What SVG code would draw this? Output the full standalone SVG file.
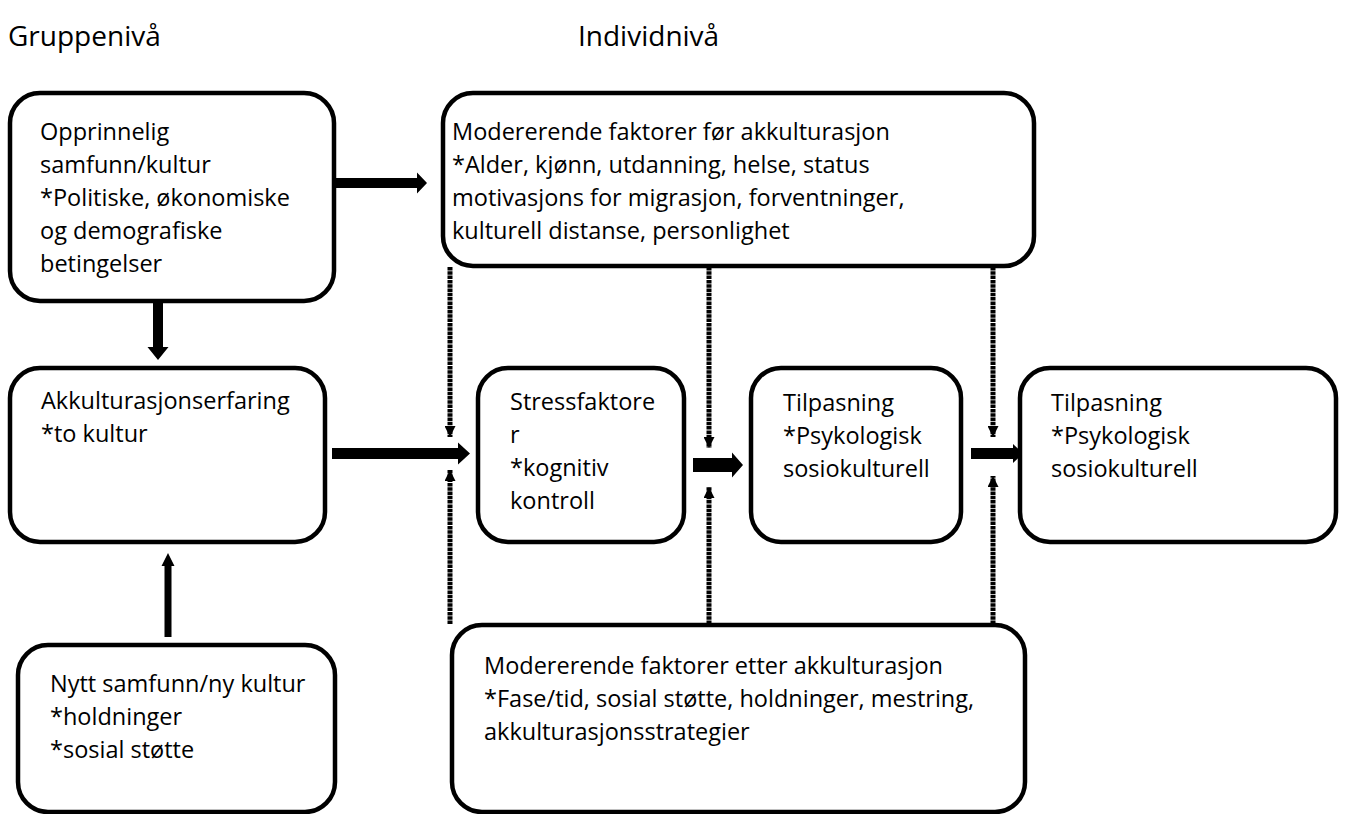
<svg xmlns="http://www.w3.org/2000/svg" width="1346" height="814" viewBox="0 0 1346 814">
<defs>
<style>
.box{fill:#fff;stroke:#000;stroke-width:4.5}
.t{font-family:"Open Sans","Noto Sans",sans-serif;font-size:23.5px;fill:#000}
.h{font-family:"Open Sans","Noto Sans",sans-serif;font-size:28px;fill:#000}
.arr{fill:#000}
.dot{stroke:#000;stroke-width:5;stroke-dasharray:3.5 0.8;fill:none}
</style>
<marker id="dh" viewBox="0 0 10 10" refX="10" refY="5" markerWidth="2.2" markerHeight="2.2" orient="auto" markerUnits="strokeWidth">
<path d="M0,0 L10,5 L0,10 Z" fill="#000"/>
</marker>
</defs>
<rect width="1346" height="814" fill="#fff"/>
<text class="h" x="8" y="46">Gruppenivå</text>
<text class="h" x="578" y="46">Individnivå</text>

<g id="connectors">
<polygon class="arr" points="335,178 417,178 417,172.5 427,183 417,193.5 417,188 335,188"/>
<polygon class="arr" points="153,301 163,301 163,347 168.5,347 158,360 147.5,347 153,347"/>
<polygon class="arr" points="164.5,637 171.5,637 171.5,566 174.5,566 168,553 161.5,566 164.5,566"/>
<polygon class="arr" points="332,448 458,448 458,442.5 470,453.5 458,464.5 458,459 332,459"/>
<polygon class="arr" points="693,458 732,458 732,452.5 743,465 732,477.5 732,472 693,472"/>
<polygon class="arr" points="971,448 1013,448 1013,444 1023,453.5 1013,463 1013,459 971,459"/>
<line class="dot" x1="450" y1="267" x2="450" y2="437" marker-end="url(#dh)"/>
<line class="dot" x1="709" y1="267" x2="709" y2="448" marker-end="url(#dh)"/>
<line class="dot" x1="993" y1="267" x2="993" y2="437" marker-end="url(#dh)"/>
<line class="dot" x1="450" y1="624" x2="450" y2="470" marker-end="url(#dh)"/>
<line class="dot" x1="709" y1="624" x2="709" y2="487" marker-end="url(#dh)"/>
<line class="dot" x1="993" y1="624" x2="993" y2="476" marker-end="url(#dh)"/>
</g>

<g id="opprinnelig">
<rect class="box" x="10" y="93" width="324" height="208" rx="30"/>
<text class="t"><tspan x="40" y="140">Opprinnelig</tspan><tspan x="40" y="173">samfunn/kultur</tspan><tspan x="40" y="206">*Politiske, økonomiske</tspan><tspan x="40" y="239">og demografiske</tspan><tspan x="40" y="272">betingelser</tspan></text>
</g>

<g id="for">
<rect class="box" x="443" y="93" width="591" height="173" rx="30"/>
<text class="t"><tspan x="452" y="140">Modererende faktorer før akkulturasjon</tspan><tspan x="452" y="173">*Alder, kjønn, utdanning, helse, status</tspan><tspan x="452" y="206">motivasjons for migrasjon, forventninger,</tspan><tspan x="452" y="239">kulturell distanse, personlighet</tspan></text>
</g>

<g id="akku">
<rect class="box" x="10" y="368" width="315" height="174" rx="30"/>
<text class="t"><tspan x="41" y="409">Akkulturasjonserfaring</tspan><tspan x="41" y="442">*to kultur</tspan></text>
</g>

<g id="stress">
<rect class="box" x="478" y="368" width="206" height="174" rx="30"/>
<text class="t"><tspan x="510" y="410">Stressfaktore</tspan><tspan x="510" y="443">r</tspan><tspan x="510" y="476">*kognitiv</tspan><tspan x="510" y="509">kontroll</tspan></text>
</g>

<g id="tilpasning1">
<rect class="box" x="751" y="368" width="210" height="174" rx="30"/>
<text class="t"><tspan x="783" y="411">Tilpasning</tspan><tspan x="783" y="444">*Psykologisk</tspan><tspan x="783" y="477">sosiokulturell</tspan></text>
</g>

<g id="tilpasning2">
<rect class="box" x="1020" y="368" width="316" height="174" rx="30"/>
<text class="t"><tspan x="1051" y="411">Tilpasning</tspan><tspan x="1051" y="444">*Psykologisk</tspan><tspan x="1051" y="477">sosiokulturell</tspan></text>
</g>

<g id="nytt">
<rect class="box" x="18" y="645" width="317" height="167" rx="30"/>
<text class="t"><tspan x="50" y="692">Nytt samfunn/ny kultur</tspan><tspan x="50" y="725">*holdninger</tspan><tspan x="50" y="758">*sosial støtte</tspan></text>
</g>

<g id="etter">
<rect class="box" x="452" y="625" width="573" height="187" rx="30"/>
<text class="t"><tspan x="484" y="674">Modererende faktorer etter akkulturasjon</tspan><tspan x="484" y="707">*Fase/tid, sosial støtte, holdninger, mestring,</tspan><tspan x="484" y="740">akkulturasjonsstrategier</tspan></text>
</g>
</svg>
